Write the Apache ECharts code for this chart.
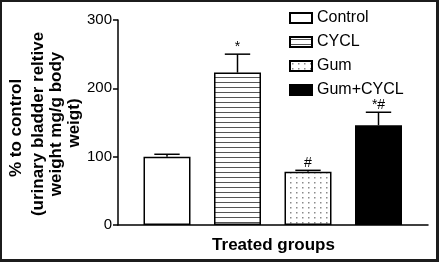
<!DOCTYPE html>
<html><head><meta charset="utf-8">
<script src="https://cdn.jsdelivr.net/npm/echarts@6/dist/echarts.min.js"></script>
<style>html,body{margin:0;padding:0;background:#fff}
#c{position:absolute;left:0;top:0;width:439px;height:262px}
#f{position:absolute;left:0;top:0;width:439px;height:262px;box-sizing:border-box;border-style:solid;border-color:#1c1c1c;border-width:2px 3px 3px 2px;pointer-events:none}
</style></head><body><div id="c"></div><div id="f"></div>
<script>
const categories = ['Control', 'CYCL', 'Gum', 'Gum+CYCL'];
const means = [100, 223, 78, 146];
const errors = [3.5, 27, 2, 19];
const marks = ['', '*', '#', '*#'];
const yTicks = [0, 100, 200, 300];
const yTitleLines = ['% to control', '(urinary bladder reltive', 'weight mg/g body', 'weigt)'];
const xTitle = 'Treated groups';

const FONT = '"Liberation Sans", Arial, Helvetica, sans-serif';

function stripes() {
  const c = document.createElement('canvas'); c.width = 4; c.height = 5;
  const g = c.getContext('2d'); g.fillStyle = '#fff'; g.fillRect(0, 0, 4, 5);
  g.fillStyle = '#555'; g.fillRect(0, 2, 4, 1); return c;
}
function dots() {
  const c = document.createElement('canvas'); c.width = 6; c.height = 5;
  const g = c.getContext('2d'); g.fillStyle = '#fff'; g.fillRect(0, 0, 6, 5);
  g.fillStyle = '#8a8a8a'; g.fillRect(2, 2, 1.5, 1.5); return c;
}
const fills = ['#ffffff', {image: stripes(), repeat: 'repeat'}, {image: dots(), repeat: 'repeat'}, '#000000'];

const chart = echarts.init(document.getElementById('c'), null, {renderer: 'canvas'});

const barSeries = categories.map((name, i) => ({
  name: name,
  type: 'bar',
  stack: 'g',
  xAxisIndex: 1, yAxisIndex: 1,
  barWidth: 47,
  data: categories.map((c, j) => j === i ? means[i] : '-'),
  itemStyle: {color: fills[i], borderColor: '#000', borderWidth: 1.5},
  emphasis: {disabled: true},
  z: 2
}));

const errSeries = {
  type: 'custom',
  xAxisIndex: 1, yAxisIndex: 1,
  z: 4,
  data: means.map((m, i) => [i, m, m + errors[i]]),
  renderItem: function (params, api) {
    const x = api.value(0);
    const top = api.coord([x, api.value(2)]);
    const base = api.coord([x, api.value(1)]);
    const half = api.size([1, 0])[0] * 0.36 / 2;
    return {
      type: 'group', children: [
        {type: 'line', shape: {x1: top[0], y1: base[1], x2: top[0], y2: top[1]}, style: {stroke: '#000', lineWidth: 1.5}},
        {type: 'line', shape: {x1: top[0] - half, y1: top[1], x2: top[0] + half, y2: top[1]}, style: {stroke: '#000', lineWidth: 1.5}},
        {type: 'text', x: top[0], y: top[1] - 0.5, style: {text: marks[params.dataIndex], fill: '#000', font: '14px ' + FONT, align: 'center', verticalAlign: 'bottom'}}
      ]
    };
  }
};

const titleX = [16.3, 38.3, 56.3, 74.6];
const titleY = [128, 124, 124, 123];

chart.setOption({
  animation: false,
  textStyle: {fontFamily: FONT},
  grid: [
    {left: 118, right: 11, top: 20, bottom: 37},
    {left: 131.75, right: 25.25, top: 20, bottom: 37}
  ],
  xAxis: [
    {gridIndex: 0, type: 'value', min: 0, max: 1, axisLine: {show: true, onZero: false, lineStyle: {color: '#000', width: 1.5}}, axisTick: {show: false}, axisLabel: {show: false}, splitLine: {show: false}},
    {gridIndex: 1, type: 'category', data: categories, show: false}
  ],
  yAxis: [
    {gridIndex: 0, type: 'value', min: yTicks[0], max: yTicks[yTicks.length - 1], interval: 100,
      axisLine: {show: true, lineStyle: {color: '#000', width: 1.5}},
      axisTick: {show: true, length: 5, lineStyle: {color: '#000', width: 1.5}},
      axisLabel: {color: '#000', fontSize: 15, margin: 6},
      splitLine: {show: false}},
    {gridIndex: 1, type: 'value', min: yTicks[0], max: yTicks[yTicks.length - 1], show: false}
  ],
  legend: {
    orient: 'vertical', left: 289, top: 9, padding: 0, itemWidth: 22, itemHeight: 10, itemGap: 6,
    icon: 'rect', selectedMode: false,
    textStyle: {fontSize: 16, color: '#000', lineHeight: 18},
    data: categories
  },
  graphic: yTitleLines.map((t, i) => ({
    type: 'text', x: titleX[i], y: titleY[i], rotation: Math.PI / 2,
    style: {text: t, font: 'bold 17px ' + FONT, fill: '#000', align: 'center', verticalAlign: 'middle'}
  })).concat([
    {type: 'text', x: 273.5, y: 245,
      style: {text: xTitle, font: 'bold 17px ' + FONT, fill: '#000', align: 'center', verticalAlign: 'middle'}}
  ]),
  series: barSeries.concat([errSeries])
});
</script></body></html>
